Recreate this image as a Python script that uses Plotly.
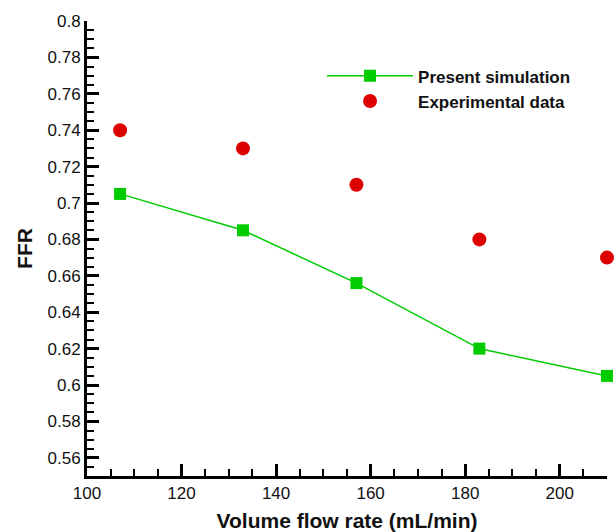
import plotly.graph_objects as go

flow = [107, 133, 157, 183, 210]
ffr_sim = [0.705, 0.685, 0.656, 0.620, 0.605]
ffr_exp = [0.740, 0.730, 0.710, 0.680, 0.670]
y_ticks = [0.56, 0.58, 0.6, 0.62, 0.64, 0.66, 0.68, 0.7, 0.72, 0.74, 0.76, 0.78, 0.8]
y_labels = ["0.56", "0.58", "0.6", "0.62", "0.64", "0.66", "0.68", "0.7", "0.72", "0.74", "0.76", "0.78", "0.8"]
x_ticks = [100, 120, 140, 160, 180, 200]

FONT = "Liberation Sans, Arial, sans-serif"

fig = go.Figure()
fig.add_trace(go.Scatter(
    x=flow, y=ffr_sim, mode="lines+markers", name="<b>Present simulation</b>",
    line=dict(color="#00cc00", width=1.5),
    marker=dict(symbol="square", size=12, color="#00cc00"),
    cliponaxis=False,
))
fig.add_trace(go.Scatter(
    x=flow, y=ffr_exp, mode="markers", name="<b>Experimental data</b>",
    marker=dict(symbol="circle", size=14, color="#dd0000"),
    cliponaxis=False,
))

axis_common = dict(
    showline=True, linecolor="black", linewidth=3, mirror=False,
    ticks="inside", ticklen=12, tickwidth=3, tickcolor="black",
    showgrid=False, zeroline=False, automargin=False,
    tickfont=dict(family=FONT, size=17, color="#111"),
)

fig.update_xaxes(
    range=[100, 210], tickvals=x_ticks,
    minor=dict(ticks="inside", ticklen=7, tickwidth=1.5, tickcolor="black", dtick=5, showgrid=False),
    title=dict(text="<b>Volume flow rate (mL/min)</b>", font=dict(family=FONT, size=21, color="#111"), standoff=19),
    **axis_common,
)
fig.update_yaxes(
    range=[0.55, 0.8], tickvals=y_ticks, ticktext=y_labels,
    minor=dict(ticks="inside", ticklen=7, tickwidth=1.5, tickcolor="black", dtick=0.005, showgrid=False),
    title=dict(text="<b>FFR</b>", font=dict(family=FONT, size=21, color="#111"), standoff=10),
    **axis_common,
)

fig.update_layout(
    width=614, height=532,
    margin=dict(l=87, r=7, t=21, b=56),
    paper_bgcolor="white", plot_bgcolor="white",
    showlegend=True,
    legend=dict(
        x=0.452, y=0.918, xanchor="left", yanchor="top",
        bgcolor="rgba(0,0,0,0)", itemwidth=86,
        font=dict(family=FONT, size=17, color="#111"),
        tracegroupgap=0,
    ),
)

fig.write_html("out.html")
